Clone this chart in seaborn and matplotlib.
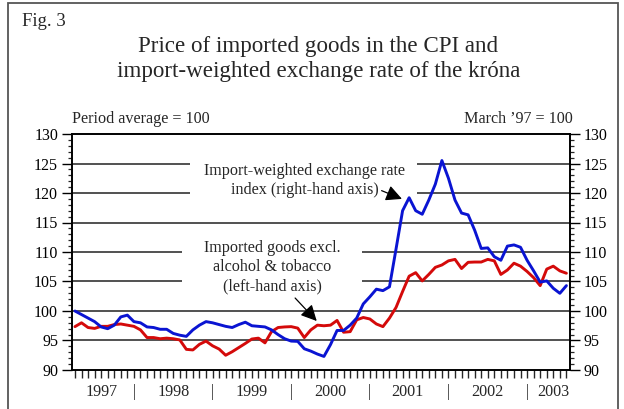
import numpy as np
import pandas as pd
import matplotlib
matplotlib.use("Agg")
import matplotlib.pyplot as plt
import matplotlib.patches as mpatches
from matplotlib.ticker import MultipleLocator
import seaborn as sns

# ---------------- data (monthly, March 1997 - June 2003) ----------------
months = pd.date_range("1997-03-01", periods=76, freq="MS")

exchange_rate = [100.0, 99.4, 98.8, 98.2, 97.3, 97.0, 97.6, 99.0, 99.3, 98.2,
                 98.0, 97.3, 97.2, 96.9, 96.9, 96.2, 95.9, 95.7, 96.8, 97.6,
                 98.2, 98.0, 97.7, 97.4, 97.2, 97.7, 98.1, 97.5, 97.4, 97.3,
                 96.8, 96.0, 95.3, 94.9, 94.85, 93.6, 93.2, 92.7, 92.3, 94.3,
                 96.7, 96.7, 97.6, 98.8, 101.2, 102.4, 103.7, 103.45, 104.1, 110.5,
                 117.0, 119.2, 117.0, 116.4, 118.8, 121.5, 125.5, 122.5, 118.8, 116.6,
                 116.3, 113.7, 110.6, 110.7, 109.2, 108.6, 111.0, 111.2, 110.8, 108.6,
                 106.8, 104.9, 105.1, 103.85, 103.0, 104.3]

imported_goods = [97.35, 98.0, 97.2, 97.05, 97.4, 97.4, 97.7, 97.8, 97.6, 97.4,
                  96.8, 95.5, 95.5, 95.3, 95.4, 95.3, 95.1, 93.5, 93.4, 94.35,
                  94.9, 94.1, 93.55, 92.5, 93.1, 93.8, 94.5, 95.25, 95.4, 94.6,
                  96.5, 97.2, 97.3, 97.35, 97.1, 95.5, 96.8, 97.6, 97.5, 97.6,
                  98.4, 96.4, 96.5, 98.5, 98.9, 98.65, 97.8, 97.35, 98.8, 100.6,
                  103.3, 105.9, 106.5, 105.1, 106.2, 107.4, 107.8, 108.5, 108.75, 107.2,
                  108.25, 108.3, 108.3, 108.75, 108.5, 106.2, 106.95, 108.1, 107.6, 106.7,
                  105.65, 104.3, 107.1, 107.6, 106.8, 106.4]

years = ["1997", "1998", "1999", "2000", "2001", "2002", "2003"]
year_label_pos = [4.1, 15.0, 27.0, 38.9, 50.8, 62.9, 73.0]
year_sep_pos = [9.0, 21.0, 33.0, 45.0, 57.0, 69.0]
y_ticks = [90, 95, 100, 105, 110, 115, 120, 125, 130]

df = pd.DataFrame({"month": months, "idx": np.arange(len(months)),
                   "exchange_rate": exchange_rate,
                   "imported_goods": imported_goods})

# ---------------- style ----------------
sns.set_theme(style="ticks")
plt.rcParams["font.family"] = ["Liberation Serif", "DejaVu Serif"]
plt.rcParams["font.size"] = 11

BLUE = "#0a14d2"
RED = "#d40a0a"
TXT = 11.6

fig = plt.figure(figsize=(6.24, 4.09), dpi=100)
ax = fig.add_axes([72 / 624, 1 - 370 / 409, 498 / 624, 236 / 409])
ax2 = ax.twinx()

xmin, xmax = -0.45, 75.55

# gridlines (segments, gaps where the annotation texts sit)
grid_kw = dict(color="#222222", lw=1.1, zorder=1)
for y in (95, 100, 115):
    ax.hlines(y, xmin, xmax, **grid_kw)
for y in (120, 125):
    ax.hlines(y, xmin, 17.6, **grid_kw)
    ax.hlines(y, 52.2, xmax, **grid_kw)
for y in (105, 110):
    ax.hlines(y, xmin, 16.3, **grid_kw)
    ax.hlines(y, 43.8, xmax, **grid_kw)

sns.lineplot(data=df, x="idx", y="imported_goods", ax=ax, color=RED, lw=2.1,
             zorder=3, legend=False)
sns.lineplot(data=df, x="idx", y="exchange_rate", ax=ax2, color=BLUE, lw=2.1,
             zorder=3, legend=False)

for a in (ax, ax2):
    a.set_xlim(xmin, xmax)
    a.set_ylim(90, 130)
    a.set_yticks(y_ticks)
    a.yaxis.set_minor_locator(MultipleLocator(1))
    a.set_xlabel("")
    a.set_ylabel("")
    for s in a.spines.values():
        s.set_visible(True)
        s.set_color("black")
        s.set_linewidth(1.2)

ax.tick_params(axis="y", which="major", direction="out", length=7, width=1,
               labelsize=11.5, colors="black", pad=3)
ax.tick_params(axis="y", which="minor", direction="out", length=3, width=0.9)
ax2.tick_params(axis="y", which="major", direction="out", length=7, width=1,
                labelsize=11.5, colors="black", pad=3)
ax2.tick_params(axis="y", which="minor", direction="out", length=3, width=0.9)

ax.set_xticks(np.arange(len(months)))
ax.set_xticklabels([])
ax.tick_params(axis="x", which="major", direction="out", length=6, width=1)
ax2.tick_params(axis="x", which="both", length=0, labelbottom=False)
ax.patch.set_visible(False)

# year labels and separators
trans = ax.get_xaxis_transform()
for yr, xp in zip(years, year_label_pos):
    ax.text(xp, -0.093, yr, transform=trans, ha="center", va="center", fontsize=TXT)
for xp in year_sep_pos:
    ax.text(xp, -0.093, "|", transform=trans, ha="center", va="center", fontsize=TXT)

# unit labels
ax.text(0.0, 1.03, "Period average = 100", transform=ax.transAxes,
        ha="left", va="bottom", fontsize=TXT)
ax.text(1.005, 1.03, "March \u201997 = 100", transform=ax.transAxes,
        ha="right", va="bottom", fontsize=TXT)

# annotations
ax.text(35.1, 122.2, "Import-weighted exchange rate\nindex (right-hand axis)",
        ha="center", va="center", fontsize=TXT, linespacing=1.25, zorder=4)
ax.annotate("", xy=(49.9, 119.0), xytext=(46.8, 120.4),
            arrowprops=dict(arrowstyle="-|>,head_length=0.6,head_width=0.3",
                            color="black", lw=0.9,
                            mutation_scale=16, shrinkA=0, shrinkB=0))
ax.text(30.1, 107.45, "Imported goods excl.\nalcohol & tobacco\n(left-hand axis)",
        ha="center", va="center", fontsize=TXT, linespacing=1.25, zorder=4)
ax.annotate("", xy=(36.9, 98.3), xytext=(33.6, 102.2),
            arrowprops=dict(arrowstyle="-|>,head_length=0.6,head_width=0.3",
                            color="black", lw=0.9,
                            mutation_scale=16, shrinkA=0, shrinkB=0))

# titles
fig.text(22 / 624, 1 - 21 / 409, "Fig. 3", ha="left", va="center", fontsize=13.5)
fig.text(0.51, 1 - 59 / 409,
         "Price of imported goods in the CPI and\nimport-weighted exchange rate of the kr\u00f3na",
         ha="center", va="center", fontsize=16.6, linespacing=1.2)

# outer frame
fig.add_artist(mpatches.Rectangle((8 / 624, -0.02), (618 - 8) / 624, 1 - 3 / 409 + 0.02,
                                  transform=fig.transFigure, fill=False,
                                  edgecolor="#555555", lw=1.3))

fig.savefig("out.png", dpi=100)
